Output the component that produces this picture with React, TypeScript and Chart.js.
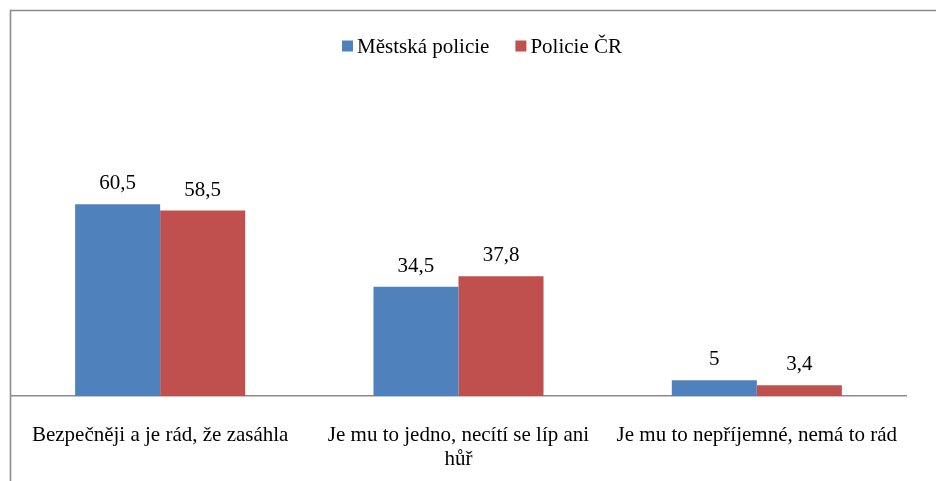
import React, { useEffect, useRef } from "react";
import { Chart, registerables } from "chart.js";

Chart.register(...registerables);

const categories: (string | string[])[] = [
  "Bezpečněji a je rád, že zasáhla",
  ["Je mu to jedno, necítí se líp ani", "hůř"],
  "Je mu to nepříjemné, nemá to rád",
];
const seriesNames = ["Městská policie", "Policie ČR"];
const mestskaPolicie = [60.5, 34.5, 5];
const policieCR = [58.5, 37.8, 3.4];
const colors = ["#4f81bd", "#c0504d"];

const FONT = "'Liberation Serif', 'Times New Roman', serif";
const FRAME = "#8c8c8c";

const framePlugin = {
  id: "frame",
  beforeDraw(chart: any) {
    const ctx = chart.ctx;
    ctx.save();
    ctx.fillStyle = "#ffffff";
    ctx.fillRect(0, 0, chart.width, chart.height);
    ctx.strokeStyle = FRAME;
    ctx.lineWidth = 1.6;
    ctx.beginPath();
    ctx.moveTo(10.5, chart.height);
    ctx.lineTo(10.5, 10.5);
    ctx.lineTo(chart.width, 10.5);
    ctx.stroke();
    ctx.restore();
  },
};

const legendPlugin = {
  id: "customLegend",
  afterDraw(chart: any) {
    const ctx = chart.ctx;
    ctx.save();
    ctx.font = `21px ${FONT}`;
    ctx.textBaseline = "middle";
    const box = 11;
    const gapBoxText = 4;
    const gapItems = 26;
    const widths = chart.data.datasets.map((d: any) => ctx.measureText(d.label).width);
    const total =
      widths.reduce((a: number, w: number) => a + box + gapBoxText + w, 0) +
      gapItems * (widths.length - 1);
    let x = 482 - total / 2;
    const cy = 46;
    chart.data.datasets.forEach((d: any, i: number) => {
      ctx.fillStyle = d.backgroundColor;
      ctx.fillRect(x, cy - box / 2, box, box);
      x += box + gapBoxText;
      ctx.fillStyle = "#000";
      ctx.textAlign = "left";
      ctx.fillText(d.label, x, cy + 1);
      x += widths[i] + gapItems;
    });
    ctx.restore();
  },
};

const valueLabelPlugin = {
  id: "valueLabels",
  afterDatasetsDraw(chart: any) {
    const ctx = chart.ctx;
    ctx.save();
    ctx.font = `21px ${FONT}`;
    ctx.fillStyle = "#000";
    ctx.textAlign = "center";
    ctx.textBaseline = "alphabetic";
    chart.data.datasets.forEach((d: any, di: number) => {
      const meta = chart.getDatasetMeta(di);
      meta.data.forEach((el: any, i: number) => {
        const txt = String(d.data[i]).replace(".", ",");
        ctx.fillText(txt, el.x, el.y - 15);
      });
    });
    ctx.restore();
  },
};

export default function App() {
  const ref = useRef<HTMLCanvasElement | null>(null);

  useEffect(() => {
    if (!ref.current) return;
    const chart = new Chart(ref.current, {
      type: "bar",
      data: {
        labels: categories,
        datasets: [
          { label: seriesNames[0], data: mestskaPolicie, backgroundColor: colors[0] },
          { label: seriesNames[1], data: policieCR, backgroundColor: colors[1] },
        ],
      },
      options: {
        responsive: false,
        animation: false,
        layout: { padding: { top: 79, left: 11, right: 30, bottom: 0 } },
        datasets: {
          bar: { categoryPercentage: 0.57, barPercentage: 1.0 },
        },
        plugins: {
          legend: { display: false },
          tooltip: { enabled: false },
        },
        scales: {
          x: {
            grid: { display: false, drawTicks: false },
            border: { display: true, color: FRAME, width: 1.6 },
            ticks: {
              color: "#000",
              padding: 28,
              maxRotation: 0,
              autoSkip: false,
              font: { family: FONT, size: 21, lineHeight: 1.12 },
            },
            afterFit: (scale: any) => {
              scale.height = 85;
            },
          },
          y: {
            display: false,
            min: 0,
            max: 100,
          },
        },
      },
      plugins: [framePlugin, legendPlugin, valueLabelPlugin],
    });
    return () => chart.destroy();
  }, []);

  return (
    <div style={{ position: "absolute", left: 0, top: 0, width: 936, height: 481, background: "#fff" }}>
      <canvas ref={ref} width={936} height={481} style={{ display: "block" }} />
    </div>
  );
}
